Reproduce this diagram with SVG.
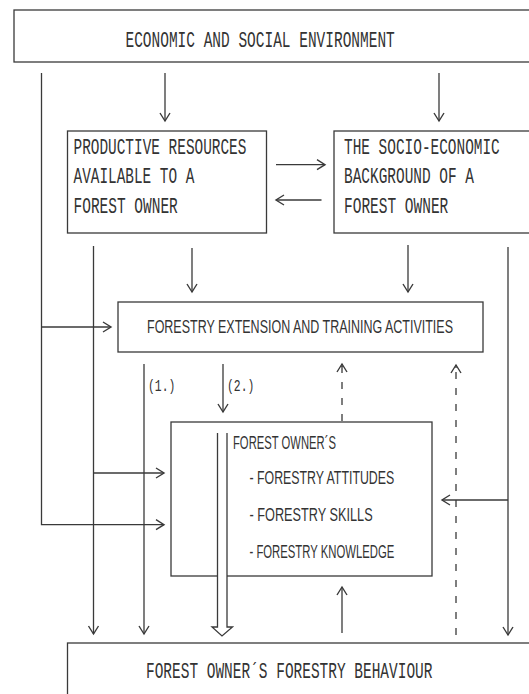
<svg xmlns="http://www.w3.org/2000/svg" width="529" height="694" viewBox="0 0 529 694">
<style>
.box{fill:none;stroke:#3a3a3a;stroke-width:1.3}
.ln{fill:none;stroke:#3a3a3a;stroke-width:1.3}
.dash{stroke-dasharray:7 9}
.mono{font-family:"Liberation Mono","DejaVu Sans Mono",monospace;font-size:22px;fill:#333}
.nar{font-family:"Liberation Sans","Arial",sans-serif;font-size:19px;fill:#333}
.lbl{font-family:"Liberation Mono","DejaVu Sans Mono",monospace;font-size:17px;fill:#333}
</style>
<defs>
<marker id="ah" markerUnits="userSpaceOnUse" markerWidth="20" markerHeight="20" viewBox="-10 -10 20 20" refX="0" refY="0" orient="auto">
<path d="M-8,-5 L0,0 L-8,5" fill="none" stroke="#3a3a3a" stroke-width="1.4"/>
</marker>
</defs>
<rect width="529" height="694" fill="#ffffff"/>
<g id="env">
<rect class="box" x="14" y="10" width="530" height="52"/>
<text class="mono" transform="translate(125.5,47) scale(0.66,1)" textLength="408" lengthAdjust="spacingAndGlyphs">ECONOMIC AND SOCIAL ENVIRONMENT</text>
</g>
<g id="resources">
<rect class="box" x="67.5" y="131" width="199" height="102"/>
<text class="mono" transform="translate(73.5,154) scale(0.66,1)" textLength="262" lengthAdjust="spacingAndGlyphs">PRODUCTIVE RESOURCES</text>
<text class="mono" transform="translate(73.5,183) scale(0.66,1)" textLength="183" lengthAdjust="spacingAndGlyphs">AVAILABLE TO A</text>
<text class="mono" transform="translate(73.5,212.5) scale(0.66,1)" textLength="158" lengthAdjust="spacingAndGlyphs">FOREST OWNER</text>
</g>
<g id="background">
<rect class="box" x="334" y="131" width="210" height="102"/>
<text class="mono" transform="translate(344,154) scale(0.66,1)" textLength="236" lengthAdjust="spacingAndGlyphs">THE SOCIO-ECONOMIC</text>
<text class="mono" transform="translate(344,183) scale(0.66,1)" textLength="197" lengthAdjust="spacingAndGlyphs">BACKGROUND OF A</text>
<text class="mono" transform="translate(344,212.5) scale(0.66,1)" textLength="158" lengthAdjust="spacingAndGlyphs">FOREST OWNER</text>
</g>
<g id="extension">
<rect class="box" x="118" y="302" width="365" height="50"/>
<text class="nar" transform="translate(147,333) scale(0.72,1)" textLength="425" lengthAdjust="spacingAndGlyphs">FORESTRY EXTENSION AND TRAINING ACTIVITIES</text>
</g>
<g id="owner">
<rect class="box" x="171" y="422" width="261" height="154"/>
<text class="nar" transform="translate(233,449) scale(0.72,1)" textLength="143" lengthAdjust="spacingAndGlyphs">FOREST OWNER´S</text>
<text class="nar" transform="translate(249.5,484) scale(0.72,1)" textLength="201" lengthAdjust="spacingAndGlyphs">- FORESTRY ATTITUDES</text>
<text class="nar" transform="translate(249.5,521) scale(0.72,1)" textLength="171" lengthAdjust="spacingAndGlyphs">- FORESTRY SKILLS</text>
<text class="nar" transform="translate(249.5,558) scale(0.72,1)" textLength="201" lengthAdjust="spacingAndGlyphs">- FORESTRY KNOWLEDGE</text>
</g>
<g id="behaviour">
<rect class="box" x="67.5" y="643" width="480" height="70"/>
<text class="mono" transform="translate(146,678) scale(0.66,1)" textLength="434" lengthAdjust="spacingAndGlyphs">FOREST OWNER´S FORESTRY BEHAVIOUR</text>
</g>
<g id="connectors">
<path class="ln" d="M41.5,73 V524.7 H164" marker-end="url(#ah)"/>
<path class="ln" d="M41.5,327 H111" marker-end="url(#ah)"/>
<path class="ln" d="M165,73 V121" marker-end="url(#ah)"/>
<path class="ln" d="M439,73 V121" marker-end="url(#ah)"/>
<path class="ln" d="M276,164.7 H325" marker-end="url(#ah)"/>
<path class="ln" d="M321.5,200 H276" marker-end="url(#ah)"/>
<path class="ln" d="M93.5,246 V634" marker-end="url(#ah)"/>
<path class="ln" d="M93.5,473 H164" marker-end="url(#ah)"/>
<path class="ln" d="M192,248 V292" marker-end="url(#ah)"/>
<path class="ln" d="M408,245 V292" marker-end="url(#ah)"/>
<path class="ln" d="M508,247 V635" marker-end="url(#ah)"/>
<path class="ln" d="M508,500 H442" marker-end="url(#ah)"/>
<path class="ln" d="M144,364 V634" marker-end="url(#ah)"/>
<path class="ln" d="M223,364 V412" marker-end="url(#ah)"/>
<path class="ln dash" d="M342,421 V366"/>
<path class="ln" d="M342,367 V364" marker-end="url(#ah)"/>
<path class="ln dash" d="M456,635 V367"/>
<path class="ln" d="M456,368 V365" marker-end="url(#ah)"/>
<path class="ln" d="M342,633 V587" marker-end="url(#ah)"/>
<path d="M217.5,433 V627 H212 L222,636 L232.5,627 H227 V433" fill="#ffffff" stroke="#3a3a3a" stroke-width="1.3"/>
<text class="lbl" transform="translate(148,391) scale(0.7,1)" textLength="39" lengthAdjust="spacingAndGlyphs">(1.)</text>
<text class="lbl" transform="translate(227,391) scale(0.7,1)" textLength="39" lengthAdjust="spacingAndGlyphs">(2.)</text>
</g>
</svg>
